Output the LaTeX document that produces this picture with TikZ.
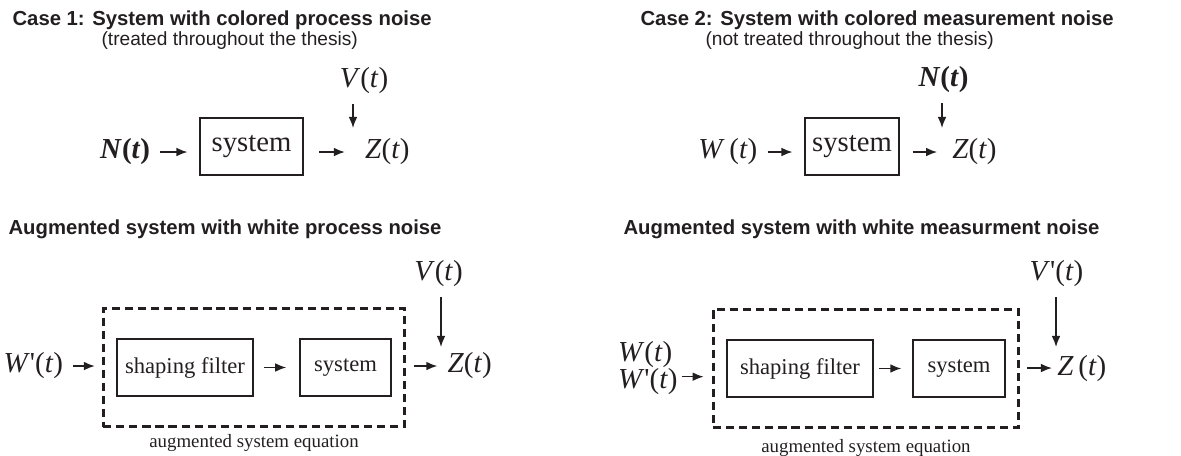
\documentclass[tikz,border=0pt]{standalone}
\usepackage{fontspec}
\usepackage{xcolor}
\setmainfont{Liberation Serif}
\setsansfont{Liberation Sans}
\usetikzlibrary{arrows.meta,positioning,fit}
\definecolor{ink}{HTML}{231F20}
\newcommand{\sg}[1]{\textit{#1}(\textit{t})}
\newcommand{\sgb}[1]{\textbf{\textit{#1}(\textit{t})}}
\newcommand{\sgp}[1]{\textit{#1}\textquotesingle(\textit{t})}

\tikzset{
  ttl/.style={font=\sffamily\bfseries\fontsize{7}{8}\selectfont, anchor=base west, inner sep=0pt},
  sub/.style={font=\sffamily\fontsize{6.6}{8}\selectfont, anchor=base west, inner sep=0pt},
  lbl/.style={font=\fontsize{10}{12}\selectfont},
  blk/.style={draw, line width=0.5pt, minimum height=19.7pt, inner sep=0pt, font=\fontsize{7.8}{9}\selectfont},
  aug/.style={draw, line width=1pt, dash pattern=on 2.8pt off 1.7pt, inner xsep=4.5pt, inner ysep=10.3pt},
  capt/.style={font=\fontsize{6.5}{8}\selectfont},
  sig/.style={-{Latex[length=3.8pt,width=3pt]}, line width=0.5pt},
}

\begin{document}
\begin{tikzpicture}[x=0.345pt,y=-0.345pt,color=ink]
  \useasboundingbox (0,0) rectangle (1181,456);

  % case 1: colored process noise
  \node[ttl] (t1) at (12,26) {Case 1: System with colored process noise};
  \node[sub] (s1) at (101,46) {(treated throughout the thesis)};
  \node[lbl, anchor=base west] (n1) at (90,159) {\sgb{N}};
  \node[blk, minimum width=35.5pt, font=\fontsize{9.9}{12}\selectfont] (sys1) at (251.5,146.5) {system};
  \node[lbl, anchor=base west] (z1) at (355,159) {\sg{Z}};
  \node[lbl, anchor=base] (v1) at (364,88) {\sg{V}};
  \coordinate (j1) at (353,128);
  \draw[sig, shorten >=4.1pt] (n1.east) -- (n1.east -| sys1.west);
  \draw[sig, shorten <=5.2pt, shorten >=3.5pt] (sys1.east |- z1.west) -- (z1.west);
  \draw[sig] (v1.south -| j1) -- (j1);

  % case 2: colored measurement noise
  \node[ttl] (t2) at (640,26) {Case 2: System with colored measurement noise};
  \node[sub] (s2) at (705,46) {(not treated throughout the thesis)};
  \node[lbl, anchor=base west] (w2) at (688,159) {\textit{W}\,(\textit{t})};
  \node[blk, minimum width=32.4pt, font=\fontsize{9.9}{12}\selectfont] (sys2) at (852,146.5) {system};
  \node[lbl, anchor=base west] (z2) at (942,159) {\sg{Z}};
  \node[lbl, anchor=base] (n2) at (943.5,87) {\sgb{N}};
  \coordinate (j2) at (942,128);
  \draw[sig, shorten >=4.1pt] (w2.east) -- (w2.east -| sys2.west);
  \draw[sig, shorten <=4.5pt, shorten >=1.7pt] (sys2.east |- z2.west) -- (z2.west);
  \draw[sig] (n2.south -| j2) -- (j2);

  % augmented system, white process noise
  \node[ttl] (t3) at (8,235) {Augmented system with white process noise};
  \node[lbl, anchor=base west] (w3) at (-6.7,373) {\sgp{W}};
  \node[blk, minimum width=46.9pt] (shp3) at (185,367.5) {shaping filter};
  \node[blk, minimum width=31.4pt] (sys3) at (345.5,367.5) {system};
  \node[aug, fit=(shp3)(sys3)] (aug3) {};
  \node[capt, below=-1.5pt of aug3] (c3) {augmented system equation};
  \node[lbl, anchor=base west] (z3) at (437.3,373) {\sg{Z}};
  \node[lbl, anchor=base] (v3) at (438.5,281) {\sg{V}};
  \coordinate (j3) at (441,347);
  \draw[sig, shorten >=2.4pt] (w3.east) -- (w3.east -| aug3.west);
  \draw[sig, shorten <=3.5pt, shorten >=4.5pt] (shp3) -- (sys3);
  \draw[sig, shorten <=2.8pt] (aug3.east |- z3.west) -- (z3.west);
  \draw[sig] (v3.south -| j3) -- (j3);

  % augmented system, white measurement noise
  \node[ttl] (t4) at (623,235) {Augmented system with white measurment noise};
  \node[lbl, anchor=west, align=left, inner xsep=0.5pt] (w4) at (616,368) {\sg{W}\\[-2.6pt]\sgp{W}};
  \node[blk, minimum width=50.4pt] (shp4) at (800,368.5) {shaping filter};
  \node[blk, minimum width=31.7pt] (sys4) at (959,368.5) {system};
  \node[aug, fit=(shp4)(sys4)] (aug4) {};
  \node[capt, below=0pt of aug4] (c4) {augmented system equation};
  \node[lbl, anchor=base west] (z4) at (1047,375) {\textit{Z}\,(\textit{t})};
  \node[lbl, anchor=base] (v4) at (1056.5,281) {\sgp{V}};
  \coordinate (j4) at (1056,347);
  \coordinate (in4) at ([yshift=-3pt]w4.east);
  \draw[sig, shorten <=0.8pt, shorten >=2.8pt] (in4) -- (in4 -| aug4.west);
  \draw[sig, shorten <=1.7pt, shorten >=3.8pt] (shp4) -- (sys4);
  \draw[sig, shorten <=2.4pt, shorten >=-1.7pt] (aug4.east |- z4.west) -- (z4.west);
  \draw[sig] (v4.south -| j4) -- (j4);
\end{tikzpicture}
\end{document}
